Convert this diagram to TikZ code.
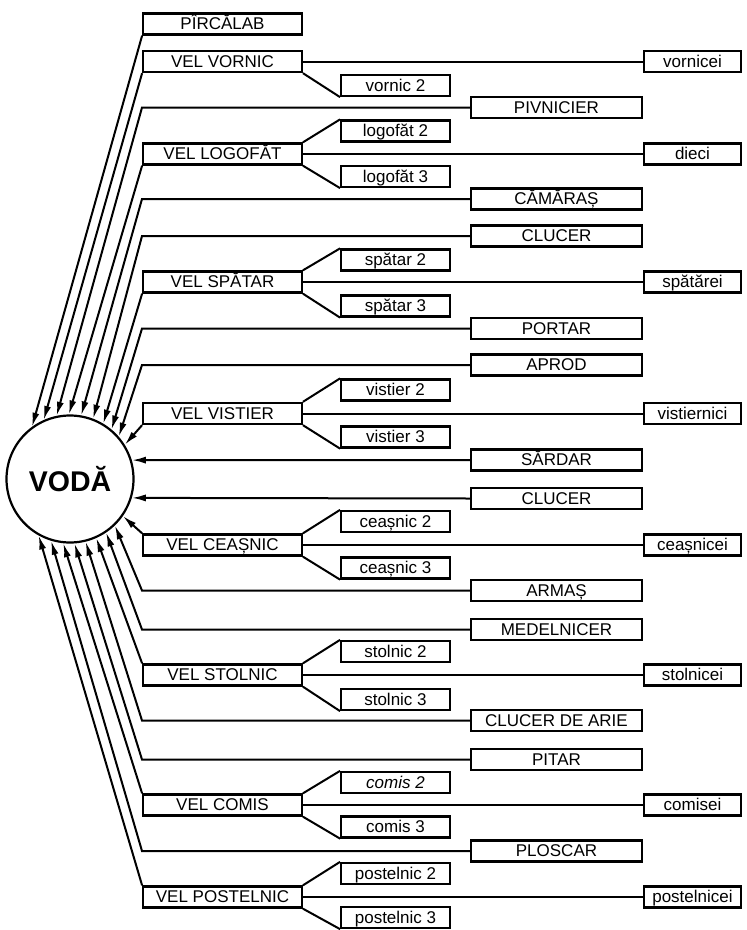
\documentclass[tikz,border=0pt]{standalone}
\usepackage{fontspec}
\setmainfont{Liberation Sans}
\usetikzlibrary{arrows.meta}
\begin{document}
\begin{tikzpicture}[x=1pt,y=-1pt,
  bx/.style={draw, line width=2.3pt, minimum height=21pt, inner sep=0pt,
    text height=12pt, text depth=0.5pt, font=\fontsize{17}{17}\selectfont},
  lbox/.style={bx, minimum width=158.5pt},
  sbox/.style={bx, minimum width=108.5pt},
  mbox/.style={bx, minimum width=170.5pt},
  rbox/.style={bx, minimum width=96.5pt},
  con/.style={line width=2pt},
  arr/.style={con, -{Latex[length=14pt,width=7pt]}},
]
\useasboundingbox (0,0) rectangle (747,930);

\node[circle, draw, line width=2.2pt, minimum size=127pt, inner sep=0pt,
  font=\bfseries\fontsize{28.5}{28.5}\selectfont] (V) at (70,479) {VODĂ};
\coordinate (bx) at (142,0);

% left column
\node[lbox] (pir) at (222.5,24) {PÎRCĂLAB};
\node[lbox] (vvor) at (222.5,61.5) {VEL VORNIC};
\node[lbox] (vlog) at (222.5,154) {VEL LOGOFĂT};
\node[lbox] (vspa) at (222.5,282) {VEL SPĂTAR};
\node[lbox] (vvis) at (222.5,413.5) {VEL VISTIER};
\node[lbox] (vcea) at (222.5,545) {VEL CEAȘNIC};
\node[lbox] (vsto) at (222.5,675) {VEL STOLNIC};
\node[lbox] (vcom) at (222.5,805) {VEL COMIS};
\node[lbox] (vpos) at (222.5,897) {VEL POSTELNIC};

% sub boxes
\node[sbox] (vor3) at (395.5,85.5) {vornic 2};
\node[sbox] (log2) at (395.5,131) {logofăt 2};
\node[sbox] (log3) at (395.5,176.5) {logofăt 3};
\node[sbox] (spa2) at (395.5,260) {spătar 2};
\node[sbox] (spa3) at (395.5,306) {spătar 3};
\node[sbox] (vis2) at (395.5,390) {vistier 2};
\node[sbox] (vis3) at (395.5,437) {vistier 3};
\node[sbox] (cea2) at (395.5,521.5) {ceașnic 2};
\node[sbox] (cea3) at (395.5,568) {ceașnic 3};
\node[sbox] (sto2) at (395.5,651.5) {stolnic 2};
\node[sbox] (sto3) at (395.5,699.5) {stolnic 3};
\node[sbox] (com2) at (395.5,782.5) {\itshape comis 2};
\node[sbox] (com3) at (395.5,827) {comis 3};
\node[sbox] (pos2) at (395.5,873.5) {postelnic 2};
\node[sbox] (pos3) at (395.5,917.5) {postelnic 3};

% middle boxes
\node[mbox] (piv) at (556.5,107.5) {PIVNICIER};
\node[mbox] (cam) at (556.5,199) {CĂMĂRAȘ};
\node[mbox] (clu) at (556.5,236) {CLUCER};
\node[mbox] (por) at (556.5,328.5) {PORTAR};
\node[mbox] (apr) at (556.5,365) {APROD};
\node[mbox] (sar) at (556.5,460) {SĂRDAR};
\node[mbox] (clb) at (556.5,498.5) {CLUCER};
\node[mbox] (arm) at (556.5,590.5) {ARMAȘ};
\node[mbox] (med) at (556.5,629.5) {MEDELNICER};
\node[mbox] (cda) at (556.5,720.5) {CLUCER DE ARIE};
\node[mbox] (pit) at (556.5,759.5) {PITAR};
\node[mbox] (plo) at (556.5,851) {PLOSCAR};

% right boxes
\node[rbox] (rvor) at (692.5,61.5) {vornicei};
\node[rbox] (rlog) at (692.5,154) {dieci};
\node[rbox] (rspa) at (692.5,282) {spătărei};
\node[rbox] (rvis) at (692.5,413.5) {vistiernici};
\node[rbox] (rcea) at (692.5,545) {ceașnicei};
\node[rbox] (rsto) at (692.5,675) {stolnicei};
\node[rbox] (rcom) at (692.5,805) {comisei};
\node[rbox] (rpos) at (692.5,897) {postelnicei};

% VEL -> right boxes and sub boxes
\draw[con] (vvor.east) -- (rvor.west);
\draw[con] (vvor.south east) -- (vor3.south west);
\foreach \a/\b/\c/\r in {vlog/log2/log3/rlog, vspa/spa2/spa3/rspa, vvis/vis2/vis3/rvis,
  vcea/cea2/cea3/rcea, vsto/sto2/sto3/rsto, vcom/com2/com3/rcom, vpos/pos2/pos3/rpos}{
  \draw[con] (\a.east) -- (\r.west);
  \draw[con] (\a.north east) -- (\b.north west);
  \draw[con] (\a.south east) -- (\c.south west);
}

% arrows to VODA (upper)
\draw[arr] (pir.south west) -- (V.126);
\draw[arr] (vvor.south west) -- (V.114);
\draw[arr] (piv.west) -- (piv.west -| bx) -- (V.102);
\draw[arr] (vlog.south west) -- (V.91);
\draw[arr] (cam.west) -- (cam.west -| bx) -- (V.80);
\draw[arr] (clu.west) -- (clu.west -| bx) -- (V.69);
\draw[arr] (vspa.south west) -- (V.59);
\draw[arr] (por.west) -- (por.west -| bx) -- (V.50);
\draw[arr] (apr.west) -- (apr.west -| bx) -- (V.41);
\draw[arr] (vvis.south west) -- (V.32);

% horizontal arrows
\draw[arr] (sar.west) -- (V.17.4);
\draw[arr] (clb.west) -- (V.-17.9);

% arrows to VODA (lower)
\draw[arr] (vcea.north west) -- (V.-35);
\draw[arr] (arm.west) -- (arm.west -| bx) -- (V.-46);
\draw[arr] (med.west) -- (med.west -| bx) -- (V.-56);
\draw[arr] (vsto.north west) -- (V.-66);
\draw[arr] (cda.west) -- (cda.west -| bx) -- (V.-76);
\draw[arr] (pit.west) -- (pit.west -| bx) -- (V.-86);
\draw[arr] (vcom.north west) -- (V.-96);
\draw[arr] (plo.west) -- (plo.west -| bx) -- (V.-107);
\draw[arr] (vpos.north west) -- (V.-119);
\end{tikzpicture}
\end{document}
